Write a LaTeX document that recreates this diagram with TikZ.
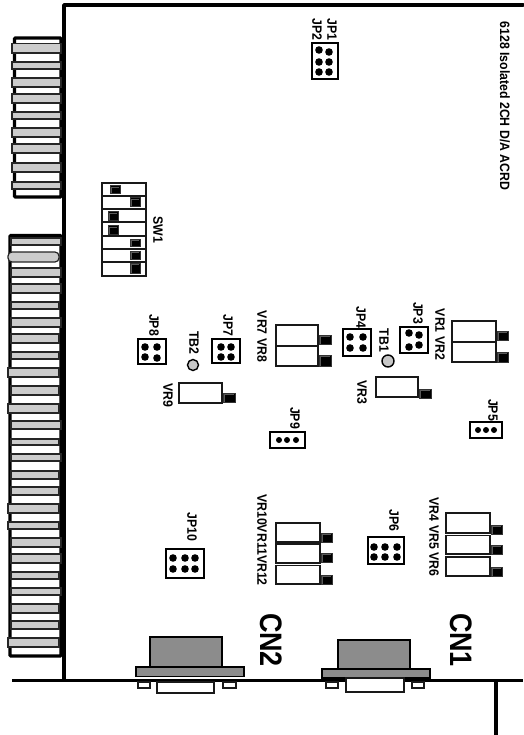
\documentclass[tikz,border=0pt]{standalone}
\usepackage{fontspec}
\setmainfont{Liberation Sans}
\tikzset{
  edge/.style={line width=3pt},
  finger/.style={draw=black!85,line width=1.2pt,fill=black!20},
  slot/.style={draw=black,line width=3.4pt,fill=white},
  pot/.style={draw=black!90,line width=1.4pt,fill=white},
  knob/.style={draw=black!80,line width=1pt,fill=black,path picture={
    \draw[black!65,line width=0.6pt] ([xshift=1.6pt,yshift=-0.5pt]path picture bounding box.south west) -- ([xshift=1.6pt,yshift=-1.6pt]path picture bounding box.north west) -- ([xshift=-1pt,yshift=-1.6pt]path picture bounding box.north east);}},
  jumper/.style={draw=black,line width=1.4pt,fill=white},
  pin/.style={fill=black},
  testpt/.style={draw=black,line width=1.4pt,fill=black!22},
  shell/.style={draw=black,line width=1.4pt,fill=black!45},
  lab/.style={rotate=-90,yscale=1.1,font=\bfseries\fontsize{12.3}{12}\selectfont,inner sep=0pt},
  biglab/.style={rotate=-90,yscale=1.15,font=\bfseries\fontsize{27}{27}\selectfont,inner sep=0pt}
}
\begin{document}
\begin{tikzpicture}[x=1pt,y=-1pt]
\useasboundingbox (0,0) rectangle (523,735);
% upper edge connector
\draw[slot,rounded corners=1pt] (61,38) -- (14.5,38) -- (14.5,197) -- (61,197) -- cycle;
\draw[finger] (12,43.5) rectangle (61,53);
\draw[finger] (12,62) rectangle (61,69);
\draw[finger] (12,78) rectangle (61,87);
\draw[finger] (12,94) rectangle (61,103);
\draw[finger] (12,112) rectangle (61,119);
\draw[finger] (12,128) rectangle (61,137);
\draw[finger] (12,144) rectangle (61,153);
\draw[finger] (12,163) rectangle (61,172);
\draw[finger] (12,182) rectangle (61,189);
% lower edge connector
\draw[slot,rounded corners=1pt] (61,235.5) -- (10,235.5) -- (10,656) -- (61,656) -- cycle;
\draw[finger] (11,238) rectangle (61,245);
\draw[finger,rounded corners=4pt] (8,252) rectangle (59,262);
\draw[finger] (11,268) rectangle (61,277);
\draw[finger] (11,284) rectangle (61,293);
\draw[finger] (11,302) rectangle (59,309);
\draw[finger] (11,318) rectangle (61,327);
\draw[finger] (11,334) rectangle (59,343);
\draw[finger] (11,352) rectangle (59,359);
\draw[finger] (8,368) rectangle (59,377);
\draw[finger] (11,386) rectangle (59,395);
\draw[finger] (8,404) rectangle (59,413);
\draw[finger] (11,421) rectangle (61,429);
\draw[finger] (11,439) rectangle (59,445);
\draw[finger] (11,454) rectangle (61,461);
\draw[finger] (11,471) rectangle (59,479);
\draw[finger] (11,487) rectangle (59,495);
\draw[finger] (8,504) rectangle (59,513);
\draw[finger] (8,522) rectangle (59,529);
\draw[finger] (11,538) rectangle (61,547);
\draw[finger] (11,554) rectangle (61,563);
\draw[finger] (11,572) rectangle (59,579);
\draw[finger] (11,588) rectangle (61,595);
\draw[finger] (11,604) rectangle (59,613);
\draw[finger] (11,621) rectangle (59,629);
\draw[finger] (8,638) rectangle (59,647);
% board outline
\draw[edge,line cap=round,line join=round,line width=3.6pt] (523,5) -- (64,5) -- (64,680);
% dip switch
\draw[pot] (102,183) rectangle (146,276);
\draw[pot] (102,196) -- (146,196);
\draw[pot] (102,209) -- (146,209);
\draw[pot] (102,222) -- (146,222);
\draw[pot] (102,236) -- (146,236);
\draw[pot] (102,249) -- (146,249);
\draw[pot] (102,262) -- (146,262);
\draw[knob] (110,185.5) rectangle (120,194);
\draw[knob] (130,198) rectangle (140,206.5);
\draw[knob] (108,211.5) rectangle (118,220);
\draw[knob] (108,225.5) rectangle (118,234);
\draw[knob] (130,239) rectangle (140,246);
\draw[knob] (130,251) rectangle (140,259);
\draw[knob] (130,263) rectangle (140,273);
\draw(158,230) node[lab] (swone) {SW1};
% jumpers
\draw[jumper] (312,43) rectangle (338,79);
\fill[pin] (319,50) circle (3.8);
\fill[pin] (329,52) circle (3.8);
\fill[pin] (319,62) circle (3.8);
\fill[pin] (329,62) circle (3.8);
\fill[pin] (319,72) circle (3.8);
\fill[pin] (329,72) circle (3.8);
\draw(332,29.5) node[lab] (jpone) {JP1};
\draw(317,29.5) node[lab] (jptwo) {JP2};
\draw[jumper] (400,327) rectangle (428,353);
\fill[pin] (409,333) circle (3.8);
\fill[pin] (419,335) circle (3.8);
\fill[pin] (409,347) circle (3.8);
\fill[pin] (419,345) circle (3.8);
\draw(418,313) node[lab] (jpthree) {JP3};
\draw[jumper] (343,329) rectangle (371,356);
\fill[pin] (350,337) circle (3.8);
\fill[pin] (363,337) circle (3.8);
\fill[pin] (350,348) circle (3.8);
\fill[pin] (363,348) circle (3.8);
\draw(361,317.5) node[lab] (jpfour) {JP4};
\draw[jumper] (212,339) rectangle (240,363);
\fill[pin] (221,347) circle (3.8);
\fill[pin] (231,347) circle (3.8);
\fill[pin] (221,357) circle (3.8);
\fill[pin] (231,357) circle (3.8);
\draw(228,325.5) node[lab] (jpseven) {JP7};
\draw[jumper] (138,339) rectangle (166,364);
\fill[pin] (145,347) circle (3.8);
\fill[pin] (157,347) circle (3.8);
\fill[pin] (145,357) circle (3.8);
\fill[pin] (157,358) circle (3.8);
\draw(154,325) node[lab] (jpeight) {JP8};
\draw[jumper] (470,422) rectangle (502,438);
\fill[pin] (478,430) circle (3);
\fill[pin] (486,430) circle (3);
\fill[pin] (494,430) circle (3);
\draw(493,410) node[lab] (jpfive) {JP5};
\draw[jumper] (270,432) rectangle (305,448);
\fill[pin] (279,440) circle (3);
\fill[pin] (287,440) circle (3);
\fill[pin] (296,440) circle (3);
\draw(295,418) node[lab] (jpnine) {JP9};
\draw[jumper] (368,537) rectangle (404,564);
\fill[pin] (374,547) circle (3.8);
\fill[pin] (385,547) circle (3.8);
\fill[pin] (397,547) circle (3.8);
\fill[pin] (374,557) circle (3.8);
\fill[pin] (385,557) circle (3.8);
\fill[pin] (397,557) circle (3.8);
\draw(394,520.5) node[lab] (jpsix) {JP6};
\draw[jumper] (166,549) rectangle (204,578);
\fill[pin] (173,558) circle (3.8);
\fill[pin] (185,558) circle (3.8);
\fill[pin] (195,558) circle (3.8);
\fill[pin] (173,569) circle (3.8);
\fill[pin] (185,569) circle (3.8);
\fill[pin] (195,569) circle (3.8);
\draw(192,527) node[lab] (jpten) {JP10};
% test points
\draw[testpt] (388,361) circle (6);
\draw(384,340.5) node[lab] (tbone) {TB1};
\draw[testpt] (193,365) circle (5.5);
\draw(194,343) node[lab] (tbtwo) {TB2};
% trimmers
\draw[pot] (452,321) rectangle (496,342);
\draw[pot] (452,342) rectangle (496,362);
\draw[knob] (497,331) rectangle (508,340);
\draw[knob] (497,352) rectangle (508,362);
\draw(440,334.5) node[lab] (vrtop) {VR1 VR2};
\draw[pot] (376,377) rectangle (418,397);
\draw[knob] (419,389) rectangle (431,398);
\draw(362,392) node[lab] (vrthree) {VR3};
\draw[pot] (276,325) rectangle (318,346);
\draw[pot] (276,346) rectangle (318,366);
\draw[knob] (319,335) rectangle (331,344);
\draw[knob] (319,355) rectangle (331,366);
\draw(262,336.5) node[lab] (vrmid) {VR7 VR8};
\draw[pot] (179,383) rectangle (222,403);
\draw[knob] (223,393) rectangle (235,402);
\draw(168,395) node[lab] (vrnine) {VR9};
\draw[pot] (446,513) rectangle (490,533);
\draw[pot] (446,535.5) rectangle (490,554);
\draw[pot] (446,557) rectangle (490,576);
\draw[knob] (491,525) rectangle (502,534);
\draw[knob] (491,545) rectangle (502,554);
\draw[knob] (491,567) rectangle (502,576);
\draw(434,537) node[lab] (vrlow) {VR4 VR5 VR6};
\draw[pot] (276,523) rectangle (320,542);
\draw[pot] (276,544) rectangle (320,563);
\draw[pot] (276,565.5) rectangle (320,584);
\draw[knob] (321,533) rectangle (332,542);
\draw[knob] (321,553) rectangle (332,562);
\draw[knob] (321,575) rectangle (332,584);
\draw(262,540) node[lab] (vrbot) {VR10VR11VR12};
% title
\draw(505,106) node[lab] (title) {6128 Isolated 2CH D/A ACRD};
% D connectors
\draw[shell] (150,637) rectangle (222,667);
\draw[shell] (136,667) rectangle (244,676.5);
\draw[shell] (338,640) rectangle (410,669);
\draw[shell] (322,669) rectangle (430,678);
\draw[edge] (12,680) -- (523,680);
\draw[edge,line width=3.6pt] (496,680) -- (496,735);
\draw[pot] (138,682) rectangle (150,688);
\draw[pot] (223,682) rectangle (236,688);
\draw[pot] (157,682) rectangle (214,693);
\draw[pot] (326,682) rectangle (338,688);
\draw[pot] (412,682) rectangle (424,688);
\draw[pot] (346,678) rectangle (404,692);
\draw(271.5,640) node[biglab] (cntwo) {CN2};
\draw(461.5,640) node[biglab] (cnone) {CN1};
\end{tikzpicture}
\end{document}
